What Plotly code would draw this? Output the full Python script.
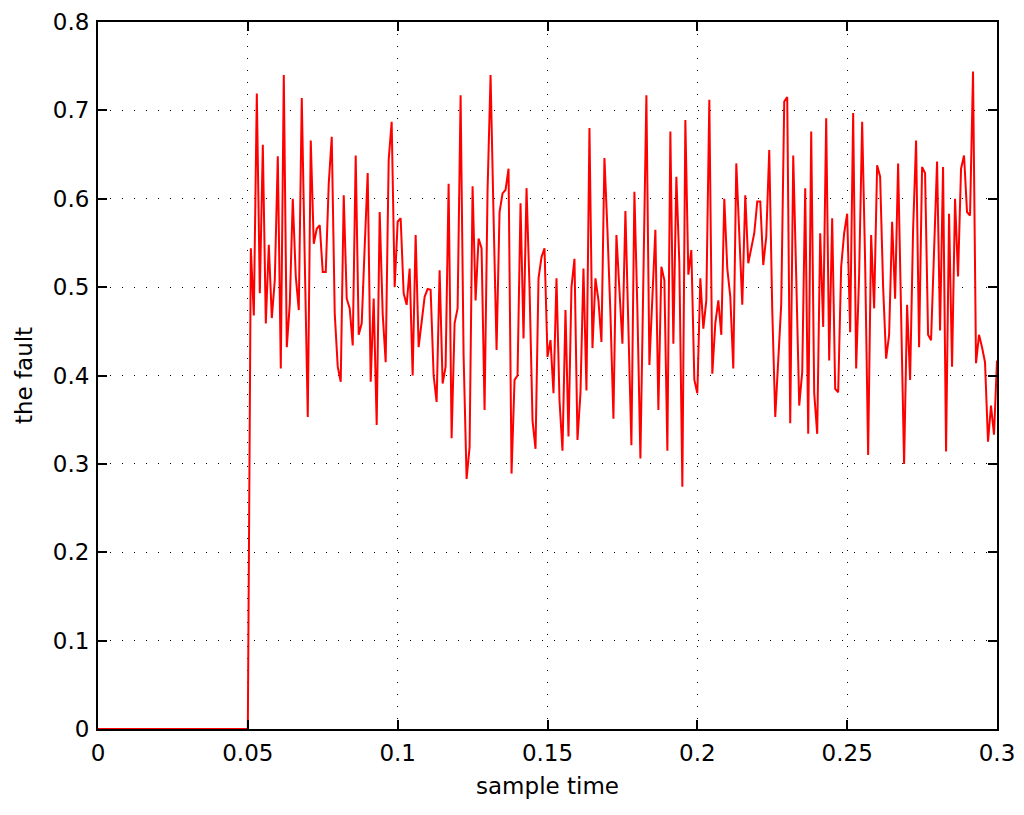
import numpy as np
import plotly.graph_objects as go

# time in seconds (1 ms sampling)
t_pre = [0.0, 0.05]
v_pre = [0.0, 0.0]

# values from t = 0.051 to 0.300, one per ms
v_fault = [
    # 0.051 - 0.080
    0.544, 0.468, 0.719, 0.493, 0.661, 0.459, 0.548, 0.465, 0.508, 0.648,
    0.408, 0.740, 0.432, 0.481, 0.600, 0.512, 0.474, 0.714, 0.530, 0.353,
    0.666, 0.549, 0.566, 0.570, 0.517, 0.517, 0.617, 0.670, 0.470, 0.410,
    # 0.081 - 0.110
    0.393, 0.604, 0.487, 0.476, 0.434, 0.649, 0.446, 0.459, 0.546, 0.629,
    0.393, 0.487, 0.344, 0.585, 0.470, 0.415, 0.644, 0.687, 0.500, 0.574,
    0.578, 0.493, 0.480, 0.521, 0.400, 0.559, 0.432, 0.459, 0.489, 0.498,
    # 0.111 - 0.140
    0.497, 0.400, 0.370, 0.519, 0.391, 0.410, 0.617, 0.329, 0.459, 0.476,
    0.717, 0.423, 0.283, 0.319, 0.614, 0.485, 0.555, 0.544, 0.361, 0.610,
    0.740, 0.580, 0.429, 0.585, 0.606, 0.610, 0.634, 0.289, 0.395, 0.400,
    # 0.141 - 0.170
    0.595, 0.442, 0.612, 0.500, 0.349, 0.317, 0.510, 0.534, 0.544, 0.421,
    0.440, 0.380, 0.510, 0.372, 0.315, 0.474, 0.331, 0.500, 0.532, 0.327,
    0.380, 0.521, 0.383, 0.680, 0.431, 0.510, 0.485, 0.438, 0.646, 0.565,
    # 0.171 - 0.200
    0.470, 0.351, 0.559, 0.497, 0.436, 0.586, 0.448, 0.321, 0.608, 0.474,
    0.306, 0.493, 0.717, 0.412, 0.493, 0.565, 0.361, 0.523, 0.508, 0.315,
    0.676, 0.436, 0.625, 0.527, 0.274, 0.689, 0.514, 0.542, 0.395, 0.380,
    # 0.201 - 0.230
    0.510, 0.453, 0.485, 0.712, 0.402, 0.459, 0.485, 0.446, 0.600, 0.521,
    0.489, 0.408, 0.640, 0.553, 0.480, 0.604, 0.527, 0.544, 0.561, 0.597,
    0.597, 0.525, 0.557, 0.655, 0.474, 0.353, 0.425, 0.481, 0.710, 0.715,
    # 0.231 - 0.260
    0.346, 0.649, 0.512, 0.366, 0.404, 0.612, 0.334, 0.676, 0.380, 0.334,
    0.561, 0.455, 0.691, 0.417, 0.578, 0.385, 0.381, 0.523, 0.561, 0.583,
    0.449, 0.697, 0.408, 0.515, 0.687, 0.527, 0.310, 0.559, 0.476, 0.638,
    # 0.261 - 0.290
    0.625, 0.500, 0.419, 0.446, 0.574, 0.487, 0.640, 0.468, 0.300, 0.480,
    0.395, 0.565, 0.666, 0.432, 0.636, 0.629, 0.446, 0.440, 0.551, 0.642,
    0.451, 0.636, 0.314, 0.583, 0.410, 0.600, 0.512, 0.634, 0.649, 0.585,
    # 0.291 - 0.300
    0.581, 0.744, 0.414, 0.446, 0.432, 0.415, 0.325, 0.366, 0.333, 0.417,
]
t_fault = [round(0.051 + 0.001 * i, 3) for i in range(len(v_fault))]

t_all = t_pre + t_fault
v_all = v_pre + v_fault

x_ticks = [0, 0.05, 0.1, 0.15, 0.2, 0.25, 0.3]
x_labels = ["0", "0.05", "0.1", "0.15", "0.2", "0.25", "0.3"]
y_ticks = [0, 0.1, 0.2, 0.3, 0.4, 0.5, 0.6, 0.7, 0.8]
y_labels = ["0", "0.1", "0.2", "0.3", "0.4", "0.5", "0.6", "0.7", "0.8"]

fig = go.Figure()
fig.add_trace(go.Scatter(x=t_all, y=v_all, mode="lines",
                         line=dict(color="#ff0000", width=2), showlegend=False))

font = dict(family="DejaVu Sans, Arial, sans-serif", size=23, color="black")
axis_common = dict(
    showline=True, linecolor="black", linewidth=2, mirror="ticks",
    ticks="inside", ticklen=9, tickwidth=1.5, tickcolor="black",
    showgrid=True, gridcolor="black", gridwidth=1, griddash="1px,11px",
    zeroline=False, tickfont=font, automargin=False,
)
fig.update_xaxes(range=[0, 0.3], tickvals=x_ticks, ticktext=x_labels,
                 title=dict(text="sample time", font=font, standoff=13),
                 ticklabelstandoff=2, **axis_common)
fig.update_yaxes(range=[0, 0.8], tickvals=y_ticks, ticktext=y_labels,
                 title=dict(text="the fault", font=font, standoff=14),
                 ticklabelstandoff=2, **axis_common)

fig.update_layout(
    width=1008, height=799,
    margin=dict(l=90, r=19, t=14, b=78),
    plot_bgcolor="white", paper_bgcolor="white",
    font=font,
)
fig.write_html("out.html")
